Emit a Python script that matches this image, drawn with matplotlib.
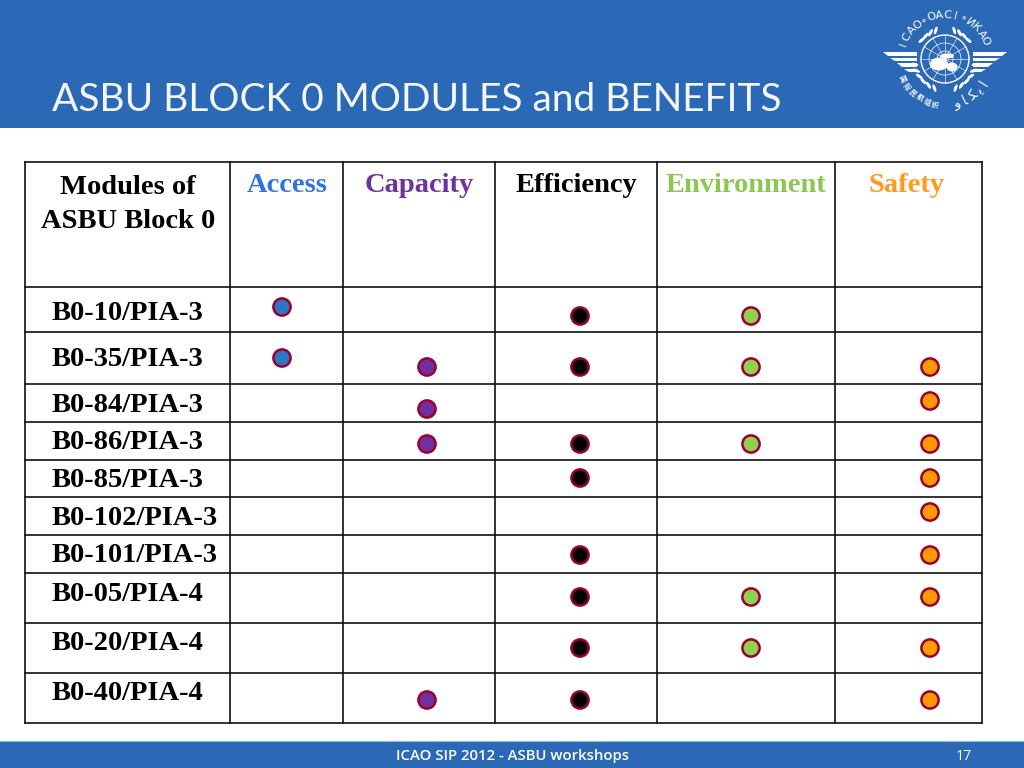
import matplotlib
matplotlib.use("Agg")
import matplotlib.pyplot as plt
from matplotlib.patches import Rectangle, Circle, Ellipse, Polygon
import numpy as np

title = "ASBU BLOCK 0 MODULES and BENEFITS"
footer = "ICAO SIP 2012 - ASBU workshops"
page = "17"
corner_label = ["Modules of", "ASBU Block 0"]

benefits = ["Access", "Capacity", "Efficiency", "Environment", "Safety"]
modules = ["B0-10/PIA-3", "B0-35/PIA-3", "B0-84/PIA-3", "B0-86/PIA-3", "B0-85/PIA-3",
           "B0-102/PIA-3", "B0-101/PIA-3", "B0-05/PIA-4", "B0-20/PIA-4", "B0-40/PIA-4"]

# one row per module, one column per benefit
has_benefit = [
    [1, 0, 1, 1, 0],
    [1, 1, 1, 1, 1],
    [0, 1, 0, 0, 1],
    [0, 1, 1, 1, 1],
    [0, 0, 1, 0, 1],
    [0, 0, 0, 0, 1],
    [0, 0, 1, 0, 1],
    [0, 0, 1, 1, 1],
    [0, 0, 1, 1, 1],
    [0, 1, 1, 0, 1],
]

# layout, in pixels of the slide
col_x = [25, 230, 343, 495, 657, 835, 982]
row_y = [162, 287, 332, 384, 422, 460, 497, 535, 573, 623, 673, 723]
dot_x = [282, 427, 580, 751, 930]
dot_y = [316, 367, 401, 444, 478, 512, 555, 597, 648, 700]
dot_y_moved = {(0, 0): 307, (1, 0): 358, (2, 1): 409}
label_base = [320, 366, 412, 449, 487, 525, 562, 601, 650, 700]
header_x = [287, 419, 576, 746, 907]

blue = "#2B69B7"
colors = ["#2E75C4", "#7030A0", "#000000", "#92D050", "#FF9900"]
header_colors = ["#2F73E0", "#7030A0", "#000000", "#8CC850", "#FF9A1E"]
ring = "#990033"
serif = "Liberation Serif"

fig = plt.figure(figsize=(10.24, 7.68), dpi=100)
ax = fig.add_axes([0, 0, 1, 1])
ax.set_xlim(0, 1024)
ax.set_ylim(768, 0)
ax.axis("off")

# bands
ax.add_patch(Rectangle((0, 0), 1024, 128, color=blue, lw=0))
ax.add_patch(Rectangle((0, 741), 1024, 27, color=blue, lw=0))
ax.plot([0, 1024], [740.5, 740.5], color="#8DB3E2", lw=0.8)
ax.text(52, 111, title, color="#F4F7FB", fontsize=28, family="Lato", va="baseline", ha="left")
ax.text(512, 756, footer, color="white", fontsize=10.7, family="Open Sans", weight="semibold", ha="center", va="center")
ax.text(964, 756, page, color="white", fontsize=10.2, family="Open Sans", ha="center", va="center")

# table grid
for y in row_y:
    ax.plot([col_x[0], col_x[-1]], [y, y], color="#111111", lw=1.2, solid_capstyle="projecting")
for x in col_x:
    ax.plot([x, x], [row_y[0], row_y[-1]], color="#111111", lw=1.2, solid_capstyle="projecting")

# header and row labels
for line, y in zip(corner_label, [194, 228]):
    ax.text(128, y, line, family=serif, weight="bold", fontsize=20.5, ha="center", va="baseline", color="black")
for name, x, c in zip(benefits, header_x, header_colors):
    ax.text(x, 192, name, family=serif, weight="bold", fontsize=20.5, ha="center", va="baseline", color=c)
for name, y in zip(modules, label_base):
    ax.text(52, y, name, family=serif, weight="bold", fontsize=20.5, ha="left", va="baseline", color="black")

# dots
for i, row in enumerate(has_benefit):
    for j, on in enumerate(row):
        if on:
            y = dot_y_moved.get((i, j), dot_y[i])
            ax.add_patch(Circle((dot_x[j], y), 8.6, facecolor=colors[j], edgecolor=ring, lw=1.8, zorder=3))


def arc_text(s, cx, cy, r, start, end, size, **kw):
    # angles in degrees, clockwise from straight up
    for ch, a in zip(s, np.linspace(start, end, len(s))):
        t = np.radians(a)
        x = cx + r * np.sin(t)
        y = cy - r * np.cos(t)
        rot = -a if abs(a) <= 90 else (180 - a if a > 0 else -180 - a)
        ax.text(x, y, ch, color="white", fontsize=size, rotation=rot, rotation_mode="anchor",
                ha="center", va="center", **kw)


# logo
cx, cy = 945, 59
white = "white"
arc_text("ICAO\u2218OACI\u2218\u0418\u041a\u0410\u041e", cx, cy, 44, -70, 66, 8, family="DejaVu Sans")
arc_text("\u56fd\u9645\u6c11\u822a\u7ec4\u7ec7", cx, cy, 47, -115, -168, 5, family="Noto Sans CJK SC", weight="bold")
arc_text("\ufeed\ufe8e\ufedc\ufef3\ufe8d", cx, cy, 46, 165, 122, 10, family="DejaVu Sans")
ax.add_patch(Circle((cx, cy), 24, fill=False, ec=white, lw=1))
for r in (8, 16):
    ax.add_patch(Circle((cx, cy), r, fill=False, ec=white, lw=0.5))
for a in np.radians(np.arange(0, 180, 30)):
    ax.plot([cx - 24 * np.cos(a), cx + 24 * np.cos(a)], [cy - 24 * np.sin(a), cy + 24 * np.sin(a)], color=white, lw=0.4)
ax.add_patch(Ellipse((cx - 6, cy + 5), 18, 13, color=white, lw=0, zorder=3))
ax.add_patch(Ellipse((cx + 7, cy + 8), 11, 9, color=white, lw=0, zorder=3))
ax.add_patch(Ellipse((cx + 2, cy - 3), 14, 5, color=white, lw=0, zorder=3))

# wings
for side in (-1, 1):
    for x0, x1, y0 in [(62, 28, 52), (55, 28, 57.5), (48, 28, 63), (41, 28, 68.5)]:
        pts = [(cx + side * x0, y0), (cx + side * x1, y0),
               (cx + side * x1, y0 + 3.5), (cx + side * (x0 - 5), y0 + 3.5)]
        ax.add_patch(Polygon(pts, color=white, lw=0))
    # laurel
    for a in np.arange(100, 170, 12):
        t = np.radians(a)
        ax.add_patch(Ellipse((cx + side * 31 * np.sin(t), cy - 31 * np.cos(t)), 3, 8, angle=side * -a, color=white, lw=0))
    for a in np.arange(18, 62, 11):
        t = np.radians(a)
        ax.add_patch(Ellipse((cx + side * 30 * np.sin(t), cy - 30 * np.cos(t)), 3, 8, angle=side * -a, color=white, lw=0))

fig.savefig("out.png", dpi=100, facecolor="white")
